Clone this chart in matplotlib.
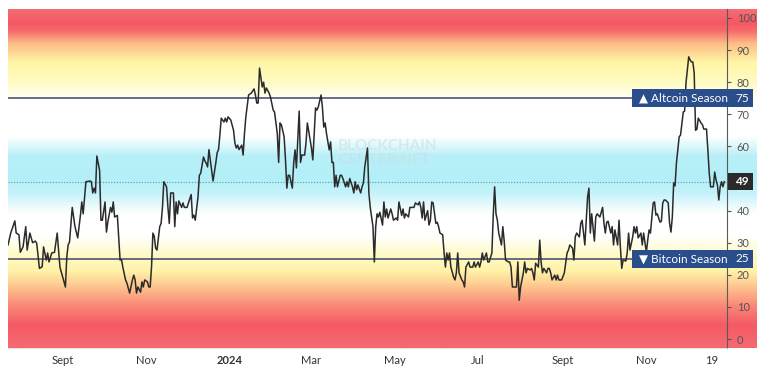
import numpy as np
import matplotlib.pyplot as plt
import matplotlib.transforms as mtransforms
from matplotlib.colors import LinearSegmentedColormap
from matplotlib.patches import Rectangle

plt.rcParams['font.family'] = ['Lato', 'DejaVu Sans']

# altcoin season index, days counted from 2023-07-23
start = np.datetime64('2023-07-23')
days = [
    0, 2, 5, 6, 8, 9, 11, 13, 14, 16, 18, 20, 21, 23, 25, 26, 28, 29, 30, 32,
    34, 36, 38, 39, 41, 42, 43, 44, 45, 47, 49, 51, 53, 54, 55, 57, 60, 61, 62, 63,
    64, 65, 67, 68, 69, 71, 72, 73, 75, 76, 77, 78, 80, 82, 83,
    84, 86, 87, 89, 91, 92, 93, 94, 95, 97, 98, 99, 100, 102, 103, 104, 105, 106, 107, 108,
    109, 111, 112, 113, 114, 116, 117, 118, 119, 121, 122, 123, 124, 125, 127, 128, 129, 131, 132, 134,
    135, 136, 137, 139, 140, 141, 143, 144, 145, 146, 147, 148, 150, 152, 153, 154, 155, 156, 158, 159,
    160, 161, 163, 165, 166, 167, 168, 169, 171, 172, 173,
    174, 176, 178, 180, 181, 182, 183, 184, 186, 187, 188, 189, 191, 192, 194, 195, 197, 198, 199, 200,
    202, 203, 204, 205, 206, 208, 209, 210, 211, 213, 214, 215, 217, 218, 219, 221, 222, 223, 225, 226,
    227, 229, 230, 231, 232, 233, 235, 236, 237, 238, 239, 240, 241, 243, 244, 245, 247, 248, 249, 250,
    252, 253, 254, 255, 256, 258, 259,
    260, 261, 263, 264, 265, 267, 268, 269, 270, 271, 272, 274, 275, 276, 277, 278, 280, 281, 282, 284,
    285, 286, 288, 289, 290, 291, 293, 294, 297, 298, 300, 301, 302, 303, 304, 305, 307, 308, 309, 310,
    311, 313, 314, 315, 316, 318, 319, 320, 321, 322, 323, 324, 326, 327, 328, 329, 330, 332, 333, 334,
    335, 337, 338, 340, 341, 342, 344, 345, 346,
    347, 348, 350, 351, 352, 354, 355, 356, 357, 358, 359, 361, 362, 363, 364, 366, 367, 368, 369, 371,
    372, 373, 374, 375, 377, 378, 379, 380, 382, 383, 384, 385, 386, 388, 389, 390, 391, 392, 394, 395,
    396, 397, 398, 400, 401, 402, 403, 405, 407, 408, 409, 410, 411, 413, 414, 415, 416, 418, 419, 420,
    421, 422, 424, 425, 426, 427, 429, 430, 431, 432, 433, 435,
    436, 437, 438, 439, 441, 442, 443, 444, 446, 447, 448, 449, 450, 452, 453, 454, 455, 457, 458, 459,
    460, 461, 463, 464, 465, 466, 467, 468, 469, 470, 472, 473, 474, 475, 477, 478, 479, 480, 481, 483,
    484, 485, 486, 487, 488, 489, 490, 491, 492, 494, 495, 496, 497, 498, 499, 500, 501, 502, 503, 504,
    505, 507, 508, 509, 511, 512, 513, 514, 516, 517, 518, 519, 520, 521, 522, 523, 524,
]
index = [
    29.3, 33, 36.8, 33, 32.5, 27, 28.7, 35, 27.7, 33, 30, 30.5, 29.8, 22, 22.5, 28.7, 24.6, 26.8, 24, 26.8,
    27, 33, 22.4, 20.9, 17.8, 16.2, 25.5, 29.3, 30.2, 41, 35, 31.5, 38.6, 42.7, 39, 49, 49.2, 49, 45.5, 47,
    45.5, 57, 52.6, 37, 37, 42.7, 33.3, 36.4, 41, 39.5, 42.7, 38, 38.5, 24.6, 24.8,
    22.4, 18.4, 17.4, 14.3, 18.4, 19.9, 18.4, 14.3, 16.2, 14.6, 17.8, 16.2, 18.4, 17.8, 16.2, 16.2, 22.4, 33, 32, 28.3,
    27.7, 35, 36, 41, 49, 47.4, 41, 36, 45.5, 45.5, 35, 42.7, 39, 43, 41, 42.4, 41, 41, 42.4, 45,
    37.7, 38.6, 37, 44.2, 51, 51.7, 56.7, 55.5, 54.8, 53.6, 59, 55.8, 49.2, 54.8, 58, 59, 63.5, 68.8, 67.6, 68.8,
    67.6, 69.2, 68.2, 65, 61, 59.5, 60.4, 59, 60.4, 57.3, 64,
    69.2, 76, 76.6, 77.9, 76, 73.5, 73.5, 84.4, 78.5, 80, 76.6, 78.2, 76.6, 75.4, 71.3, 70.7, 64, 55, 67.3, 66.7,
    63, 55.8, 47, 51, 51, 47, 54.8, 58.9, 53.3, 71, 55, 57.3, 57.3, 61, 67.3, 62, 59.5, 55.8, 72, 71.3,
    72.3, 76, 72.3, 66, 67.3, 64, 58.9, 61.4, 55, 55, 47.4, 51, 47.4, 51, 51, 50, 47.4, 49, 47.4, 50,
    47.4, 45.5, 49, 46.5, 48, 45.5, 47.4,
    48.6, 53.6, 59.5, 45.5, 41, 35, 24, 35, 39, 38, 39.5, 35.5, 42.7, 38, 40.5, 37.7, 40.5, 39, 37, 37.7,
    37, 42.7, 38.5, 40.5, 37.7, 39, 38, 41, 41, 42.4, 41.8, 42.7, 41, 37.7, 42.7, 37, 40, 35.5, 37, 42.7,
    42.4, 36, 36.4, 35, 33, 32.5, 27, 22.4, 26.8, 24.6, 26.8, 22.4, 19.3, 18.4, 20.6, 26.8, 20.6, 18.4, 17.8, 16.2,
    22.4, 24, 22.4, 22.4, 24, 22.4, 24, 22.4, 24,
    26.8, 24.6, 26.8, 24, 24, 26.8, 38.6, 47.4, 39, 37, 33, 29.3, 35, 30.5, 24.6, 24, 24, 22.4, 16.2, 16.2,
    16.2, 24, 12.1, 16.2, 20.6, 24, 20.6, 22, 21.5, 22, 20.6, 18.4, 23.6, 22.4, 30.8, 24, 20.6, 22, 20.6, 22,
    22, 20.6, 18.4, 19.9, 18.4, 19.9, 18.4, 18.4, 20.6, 23.6, 26.8, 27.7, 29.3, 28.3, 24.6, 31.8, 33, 31.8, 36, 37,
    33, 29.3, 44.2, 47, 33, 39, 30.5, 38, 39, 38.5, 38, 41,
    36, 33, 36.4, 36.7, 33, 35, 29.3, 34, 29.3, 37, 28.7, 22, 24.6, 24.3, 26.8, 33, 27.7, 31.8, 35, 33,
    35, 31.5, 33, 29.3, 33, 30, 27, 30.8, 34, 33, 42.4, 42.7, 38.6, 39, 36.4, 36.7, 42.4, 43.3, 43.3, 42.4,
    36, 33.3, 38, 48.6, 47.7, 54.8, 58.9, 63, 63.5, 70.7, 71, 79.8, 83.8, 87.9, 86.9, 86.3, 86.3, 82.9, 65, 65.4,
    68.8, 67.3, 66.8, 65.4, 65.4, 58.9, 51.7, 47.4, 47.4, 52, 49.5, 48, 43.3, 47.4, 49, 47.4, 49,
]
tick_dates = ['2023-09-01', '2023-11-01', '2024-01-01', '2024-03-01', '2024-05-01',
              '2024-07-01', '2024-09-01', '2024-11-01', '2024-12-19']
tick_labels = ['Sept', 'Nov', '2024', 'Mar', 'May', 'Jul', 'Sept', 'Nov', '19']
y_ticks = [0, 10, 20, 30, 40, 50, 60, 70, 80, 90, 100]
altcoin_level = 75
bitcoin_level = 25
last_value = 49

dates = start + np.array(days).astype('timedelta64[D]')

ylo, yhi = -2.8, 102.8
stops = [(-2.8, '#f56a72'), (4, '#f45a64'), (10, '#fa8677'), (16, '#fec48f'),
         (21, '#fff3a8'), (27, '#fffbd0'), (32, '#ffffff'), (39, '#ffffff'),
         (45, '#c6f3fa'), (50, '#b3eff8'), (57, '#b9f0f8'), (63, '#ffffff'),
         (74, '#ffffff'), (80, '#fffbc2'), (86, '#fff6a6'), (92, '#fdbd86'),
         (96, '#f66a6a'), (98.5, '#f45763'), (102.8, '#f56d75')]
cmap = LinearSegmentedColormap.from_list(
    'season', [((v - ylo) / (yhi - ylo), c) for v, c in stops])

fig = plt.figure(figsize=(7.68, 3.73), dpi=100)
W, H = 768, 373

# gradient behind plot and right price scale
bg = fig.add_axes([8 / W, 25 / H, 749 / W, 339 / H], zorder=0)
bg.imshow(np.linspace(ylo, yhi, 600).reshape(-1, 1), extent=[0, 1, ylo, yhi],
          aspect='auto', cmap=cmap, origin='lower', vmin=ylo, vmax=yhi)
bg.set_xlim(0, 1)
bg.set_ylim(ylo, yhi)
bg.axis('off')

ax = fig.add_axes([8 / W, 25 / H, 719 / W, 339 / H], zorder=1)
ax.patch.set_alpha(0)
ax.set_ylim(ylo, yhi)
ax.set_xlim(start, start + np.timedelta64(526, 'D'))

ax.axhline(altcoin_level, color='#4a5775', lw=1.2, zorder=2)
ax.axhline(bitcoin_level, color='#4a5775', lw=1.2, zorder=2)
ax.axhline(last_value, color='#5a9c9c', lw=0.8, ls=(0, (1, 1.5)), zorder=2)

blend = mtransforms.blended_transform_factory(fig.transFigure, ax.transData)
ax.text(338 / W, 60.1, 'BLOCKCHAIN', transform=blend, fontsize=11, fontweight='bold',
        color='#c9dde2', alpha=0.55, va='center', zorder=1)
ax.text(338 / W, 55.8, 'CENTER.NET', transform=blend, fontsize=11, fontweight='bold',
        color='#c9dde2', alpha=0.55, va='center', zorder=1)

ax.plot(dates, index, color='#2b2b2b', lw=1.1, zorder=4)

ax.yaxis.tick_right()
ax.set_yticks(y_ticks)
# the 50 label sits under the last-value badge
ax.set_yticklabels(['' if t == 50 else str(t) for t in y_ticks])
ax.tick_params(axis='y', labelsize=8, colors='#555555', length=3, width=0.8, pad=4)
ax.set_xticks([np.datetime64(d) for d in tick_dates])
ax.set_xticklabels(tick_labels)
ax.tick_params(axis='x', labelsize=8, colors='#333333', length=0, pad=5)
for lab in ax.get_xticklabels():
    if lab.get_text() == '2024':
        lab.set_fontweight('bold')
for s in ['top', 'left']:
    ax.spines[s].set_visible(False)
ax.spines['bottom'].set_color('#dddddd')
ax.spines['bottom'].set_linewidth(0.6)
ax.spines['right'].set_color('#5a5a5a')
ax.spines['right'].set_linewidth(0.8)

# labels on the right, drawn above the tick labels
for level, label in [(altcoin_level, '\u25B2 Altcoin Season'),
                     (bitcoin_level, '\u25BC Bitcoin Season')]:
    fig.patches.append(Rectangle((632 / W, level - 2.8), 121 / W, 5.6, transform=blend,
                                 facecolor='#2a4e8c', edgecolor='none', zorder=5))
    fig.text(639 / W, level, label, transform=blend, fontsize=8.5, color='white',
             va='center', ha='left', zorder=6)
    fig.text(735 / W, level, str(level), transform=blend, fontsize=8.5, color='white',
             va='center', ha='left', zorder=6)

fig.patches.append(Rectangle((728 / W, last_value - 2.6), 25 / W, 5.2, transform=blend,
                             facecolor='#2a2a2a', edgecolor='none', zorder=5))
fig.text(735 / W, last_value, str(last_value), transform=blend, fontsize=8.5,
         color='white', va='center', ha='left', zorder=6, fontweight='bold')

fig.savefig('out.png', dpi=100)
